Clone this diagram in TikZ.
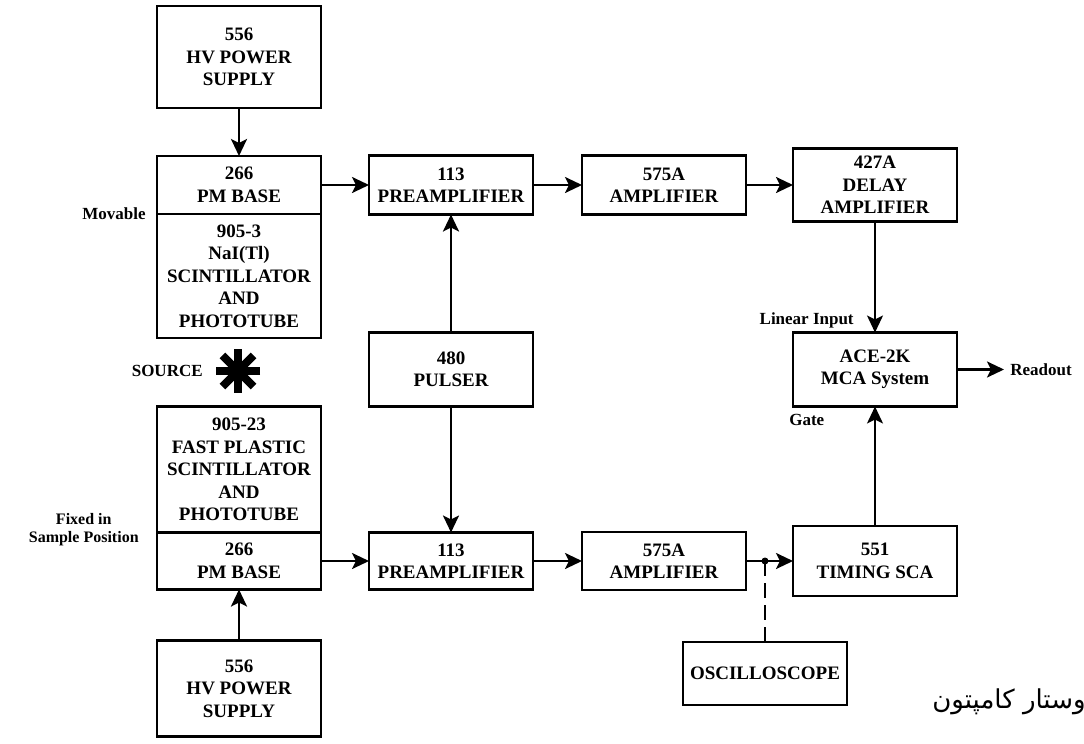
\documentclass[tikz,border=0pt]{standalone}
\usepackage{fontspec}
\setmainfont{Liberation Serif}
\newfontfamily\arabicfont[Script=Arabic]{DejaVu Sans}
\TeXXeTstate=1
\usetikzlibrary{arrows.meta, backgrounds, positioning}

\begin{document}
\begin{tikzpicture}[
            x=1pt, y=1pt,
            background rectangle/.style={fill=white},
            show background rectangle,
            inner frame sep=0pt,
            font=\fontsize{19}{22.5}\selectfont\bfseries,
            >={Stealth[length=17pt,width=16pt,inset=4pt]},
            line width=2.7pt
        ]

        \tikzstyle{block}=[
            draw,
            shape=rectangle,
            align=center,
            minimum width=164pt,
            inner sep=0pt,
            outer sep=0pt
        ]
        \tikzstyle{lbl}=[
            font=\fontsize{17}{20}\selectfont\bfseries,
            inner sep=0pt
        ]

        \useasboundingbox (0,0) rectangle (1084,-744);

        \node[block, minimum height=58pt] (pmtop) at (239,-185) {266\\PM BASE};
        \node[block, minimum height=124pt] (nai) [below=0pt of pmtop] {905-3\\NaI(Tl)\\SCINTILLATOR\\AND\\PHOTOTUBE};
        \node[block, minimum height=102pt] (hvtop) [above=48pt of pmtop] {556\\HV POWER\\SUPPLY};
        \node[block, minimum height=59pt] (preA) [right=48pt of pmtop] {113\\PREAMPLIFIER};
        \node[block, minimum height=59pt] (ampA) [right=49pt of preA] {575A\\AMPLIFIER};
        \node[block, minimum height=73pt] (delay) [right=47pt of ampA] {427A\\DELAY\\AMPLIFIER};
        \node[block, minimum height=74pt] (mca) [below=111pt of delay] {ACE-2K\\MCA System};
        \node[block, minimum height=74pt] (pulser) at (preA |- mca) {480\\PULSER};

        \node[block, minimum height=57pt] (pmbot) at (239,-561) {266\\PM BASE};
        \node[block, minimum height=126pt] (plastic) [above=0pt of pmbot] {905-23\\FAST PLASTIC\\SCINTILLATOR\\AND\\PHOTOTUBE};
        \node[block, minimum height=96pt] (hvbot) [below=51pt of pmbot] {556\\HV POWER\\SUPPLY};
        \node[block, minimum height=57pt] (preB) [right=48pt of pmbot] {113\\PREAMPLIFIER};
        \node[block, minimum height=58pt] (ampB) [right=49pt of preB] {575A\\AMPLIFIER};
        \node[block, minimum height=70pt] (sca) [right=47pt of ampB] {551\\TIMING SCA};
        \node[block, minimum height=63pt] (osc) at (765,-673.5) {OSCILLOSCOPE};
        \coordinate (tap) at (osc.north |- ampB.east);

        \coordinate (src) at (238,-371);
        \node[lbl] (srclbl) [left=34pt of src] {SOURCE};
        \node[lbl] (movable) [left=10pt of pmtop.south west] {Movable};
        \node[lbl, font=\fontsize{16}{18.5}\selectfont\bfseries, align=center] (fixed) [left=17pt of plastic.south west, yshift=3pt] {Fixed in\\Sample Position};
        \node[lbl] (linin) [above left=3pt and 20pt of mca.north] {Linear Input};
        \node[lbl, anchor=north west] (gate) at ([xshift=-5pt, yshift=-6pt]mca.south west) {Gate};
        \node[lbl, inner xsep=5pt] (readout) [right=47pt of mca] {Readout};
        \node[inner sep=0pt, anchor=east, font=\arabicfont\mdseries\fontsize{26}{30}\selectfont] (compton) at (1087,-702) {\beginR وستار کامپتون\endR};

        \foreach \a in {0,45,90,135}
            \draw[line width=8pt] (src) ++(\a:22) -- ++(\a+180:44);

        \path[->] (hvtop) edge (pmtop);
        \path[->] (hvbot) edge (pmbot);
        \path[->] (pmtop) edge (preA);
        \path[->] (preA) edge (ampA);
        \path[->] (ampA) edge (delay);
        \path[->] (pmbot) edge (preB);
        \path[->] (preB) edge (ampB);
        \path[->] (ampB) edge (sca);
        \path[->] (pulser) edge (preA);
        \path[->] (pulser) edge (preB);
        \path[->, line width=1.7pt] (delay) edge (mca);
        \path[->, line width=1.7pt] (sca) edge (mca);
        \path[->] (mca) edge (readout);
        \path[dash pattern=on 15pt off 7pt] (tap) edge (osc);
        \fill (tap) circle (3.5);
    \end{tikzpicture}
\end{document}
